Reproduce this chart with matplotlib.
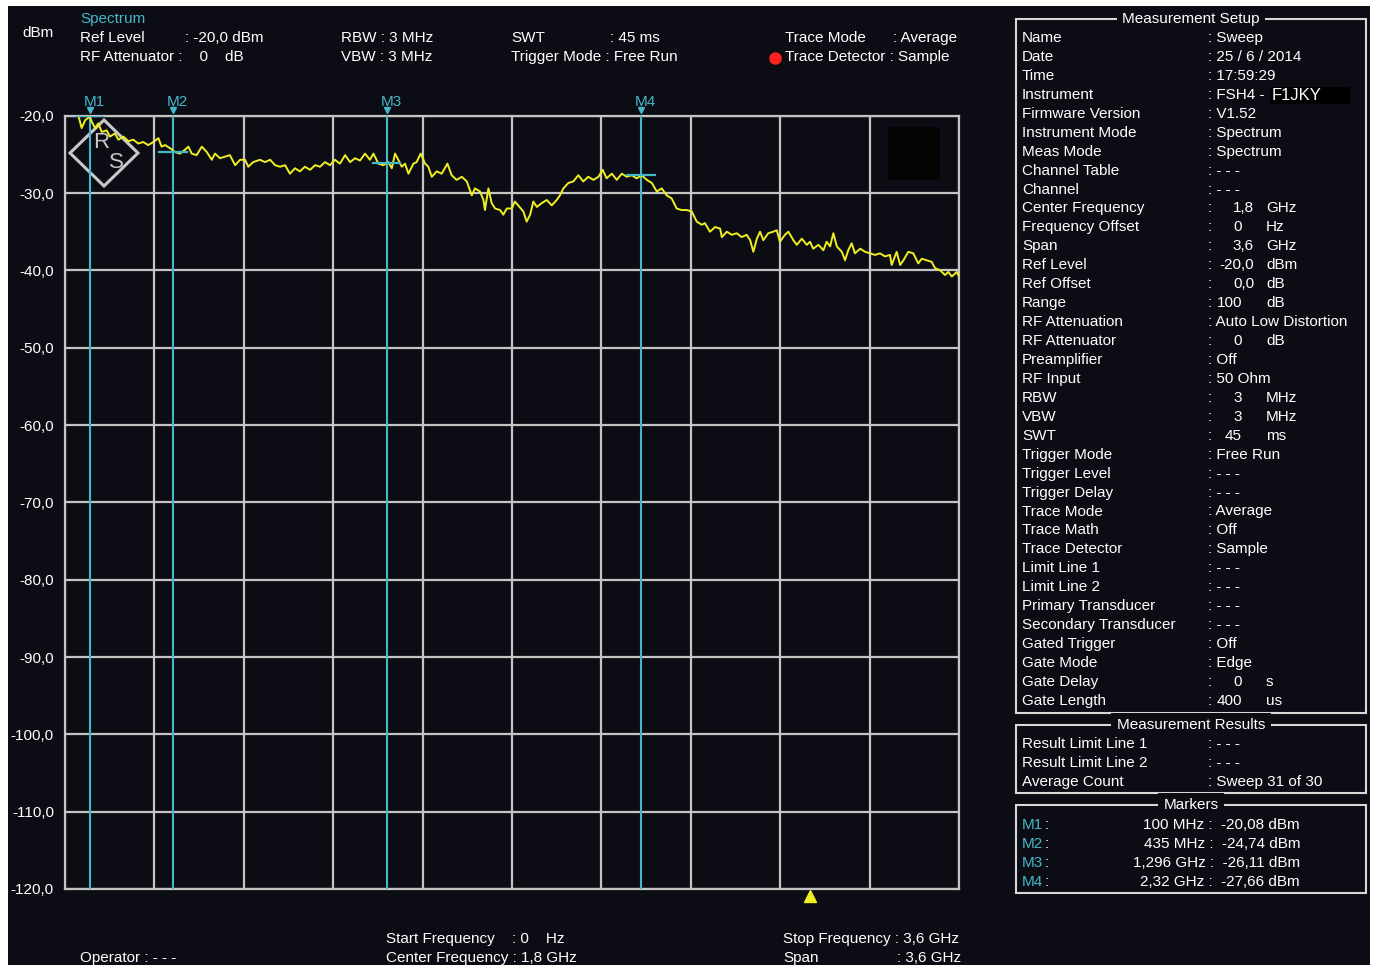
import numpy as np
import matplotlib
matplotlib.use('Agg')
import matplotlib.pyplot as plt
from matplotlib.patches import Rectangle, Polygon
from matplotlib.lines import Line2D

plt.rcParams['font.family'] = ['Liberation Sans', 'DejaVu Sans']

# trace (GHz, dBm)
trace_freq_ghz = [
    0.000, 0.030, 0.054, 0.067, 0.081, 0.100, 0.108, 0.121, 0.134, 0.148, 0.168, 0.181,
    0.201, 0.215, 0.235, 0.255, 0.275, 0.295, 0.315, 0.335, 0.356, 0.376, 0.389, 0.403,
    0.423, 0.443, 0.463, 0.483, 0.497, 0.510, 0.530, 0.551, 0.571, 0.591, 0.604, 0.624,
    0.644, 0.664, 0.685, 0.705, 0.725, 0.738, 0.758, 0.785, 0.805, 0.826, 0.846, 0.866,
    0.886, 0.906, 0.926, 0.946, 0.966, 0.987, 1.007, 1.027, 1.047, 1.067, 1.087, 1.107,
    1.128, 1.148, 1.168, 1.188, 1.208, 1.228, 1.242, 1.262, 1.282, 1.302, 1.316, 1.329,
    1.342, 1.356, 1.369, 1.383, 1.403, 1.416, 1.432, 1.450, 1.463, 1.477, 1.497, 1.517,
    1.540, 1.557, 1.577, 1.598, 1.618, 1.638, 1.651, 1.671, 1.685, 1.691, 1.705, 1.718,
    1.732, 1.752, 1.765, 1.779, 1.799, 1.812, 1.825, 1.846, 1.859, 1.873, 1.886, 1.900,
    1.920, 1.940, 1.960, 1.980, 1.993, 2.007, 2.027, 2.047, 2.067, 2.087, 2.107, 2.128,
    2.148, 2.165, 2.181, 2.202, 2.222, 2.242, 2.262, 2.282, 2.302, 2.322, 2.343, 2.363,
    2.383, 2.403, 2.423, 2.443, 2.463, 2.483, 2.504, 2.524, 2.544, 2.564, 2.577, 2.597,
    2.618, 2.638, 2.645, 2.665, 2.685, 2.705, 2.725, 2.745, 2.759, 2.772, 2.786, 2.799,
    2.812, 2.832, 2.852, 2.866, 2.879, 2.899, 2.913, 2.933, 2.947, 2.967, 2.987, 3.000,
    3.013, 3.034, 3.054, 3.067, 3.081, 3.094, 3.108, 3.128, 3.141, 3.154, 3.168, 3.181,
    3.202, 3.222, 3.242, 3.262, 3.282, 3.302, 3.322, 3.329, 3.349, 3.363, 3.376, 3.396,
    3.416, 3.436, 3.450, 3.470, 3.490, 3.503, 3.524, 3.544, 3.557, 3.571, 3.591, 3.600,
]
trace_dbm = [
    -15.0, -18.5, -20.0, -21.6, -20.6, -20.1, -20.8, -21.6, -21.0, -22.1, -21.9, -22.7,
    -22.3, -23.1, -22.7, -23.3, -23.1, -23.6, -23.4, -23.8, -23.4, -22.9, -24.0, -23.8,
    -24.2, -24.7, -24.9, -24.4, -24.0, -24.9, -25.1, -24.0, -24.7, -25.7, -24.9, -25.5,
    -25.3, -25.1, -26.4, -25.7, -25.7, -26.6, -26.0, -25.7, -26.0, -25.7, -26.4, -26.6,
    -26.4, -27.5, -26.8, -27.2, -26.6, -27.0, -26.4, -26.6, -26.0, -26.4, -25.7, -26.2,
    -25.1, -26.0, -25.5, -25.8, -24.9, -25.7, -24.9, -26.2, -26.4, -26.0, -26.8, -24.9,
    -25.7, -26.6, -26.2, -27.5, -26.2, -26.0, -24.9, -26.2, -26.6, -27.9, -27.2, -27.5,
    -26.2, -27.7, -28.3, -27.9, -28.5, -30.3, -29.4, -29.8, -30.9, -32.2, -29.4, -31.3,
    -32.0, -32.2, -32.8, -32.0, -32.0, -31.1, -31.6, -32.4, -33.7, -32.8, -31.1, -31.8,
    -31.3, -30.9, -31.6, -30.9, -30.3, -29.4, -28.7, -28.5, -27.7, -28.5, -27.9, -28.3,
    -27.9, -27.0, -28.1, -27.5, -28.3, -27.5, -27.9, -27.7, -28.1, -27.7, -28.3, -28.7,
    -29.8, -29.4, -30.3, -30.7, -32.0, -32.2, -32.2, -32.4, -33.7, -34.1, -33.9, -35.0,
    -34.4, -34.6, -35.7, -35.0, -35.4, -35.2, -35.7, -35.4, -36.1, -37.6, -35.9, -35.0,
    -36.1, -35.2, -35.0, -34.8, -36.3, -35.4, -35.0, -36.1, -36.7, -35.9, -36.7, -36.3,
    -37.2, -36.7, -37.4, -36.3, -36.9, -35.2, -36.9, -37.6, -38.7, -37.4, -36.5, -37.8,
    -37.2, -37.6, -37.8, -38.0, -37.8, -38.2, -38.0, -39.3, -37.6, -39.3, -38.7, -37.6,
    -37.8, -39.1, -38.5, -38.7, -38.9, -39.7, -40.0, -40.6, -40.2, -40.8, -40.2, -40.8,
]

marker_names = ['M1', 'M2', 'M3', 'M4']
marker_freq_ghz = [0.100, 0.435, 1.296, 2.32]
marker_freq_labels = ['100 MHz', '435 MHz', '1,296 GHz', '2,32 GHz']
marker_dbm = [-20.08, -24.74, -26.11, -27.66]

y_ticks = [-120, -110, -100, -90, -80, -70, -60, -50, -40, -30, -20]

setup_rows = [
    ('Name', ': Sweep'), ('Date', ': 25 / 6 / 2014'), ('Time', ': 17:59:29'),
    ('Instrument', ': FSH4 - '), ('Firmware Version', ': V1.52'),
    ('Instrument Mode', ': Spectrum'), ('Meas Mode', ': Spectrum'),
    ('Channel Table', ': - - -'), ('Channel', ': - - -'),
    ('Center Frequency', '1,8', 'GHz'), ('Frequency Offset', '0', 'Hz'),
    ('Span', '3,6', 'GHz'), ('Ref Level', '-20,0', 'dBm'), ('Ref Offset', '0,0', 'dB'),
    ('Range', '100', 'dB'), ('RF Attenuation', ': Auto Low Distortion'),
    ('RF Attenuator', '0', 'dB'), ('Preamplifier', ': Off'), ('RF Input', ': 50 Ohm'),
    ('RBW', '3', 'MHz'), ('VBW', '3', 'MHz'), ('SWT', '45', 'ms'),
    ('Trigger Mode', ': Free Run'), ('Trigger Level', ': - - -'), ('Trigger Delay', ': - - -'),
    ('Trace Mode', ': Average'), ('Trace Math', ': Off'), ('Trace Detector', ': Sample'),
    ('Limit Line 1', ': - - -'), ('Limit Line 2', ': - - -'),
    ('Primary Transducer', ': - - -'), ('Secondary Transducer', ': - - -'),
    ('Gated Trigger', ': Off'), ('Gate Mode', ': Edge'), ('Gate Delay', '0', 's'),
    ('Gate Length', '400', 'us'),
]
result_rows = [('Result Limit Line 1', ': - - -'), ('Result Limit Line 2', ': - - -'),
               ('Average Count', ': Sweep 31 of 30')]

W, H = 1375, 965
BG = '#0c0c14'
CYAN = '#45b8c8'
YELLOW = '#eeee22'
GRID = '#c4c4c4'


def fx(x):
    return x / W


def fy(y):
    return 1 - y / H


fig = plt.figure(figsize=(W / 100, H / 100), dpi=100)
fig.patch.set_facecolor('white')
fig.add_artist(Rectangle((fx(8), 0), 1362 / W, 959 / H, transform=fig.transFigure,
                         facecolor=BG, edgecolor='none', zorder=-10))


def txt(x, y, s, **kw):
    kw.setdefault('color', 'white')
    kw.setdefault('fontsize', 11)
    kw.setdefault('va', 'center')
    return fig.text(fx(x), fy(y), s, **kw)


# main plot
ax = fig.add_axes([fx(65), fy(889), (959 - 65) / W, (889 - 115.7) / H])
ax.set_facecolor(BG)
ax.set_xlim(0, 3.6)
ax.set_ylim(-120, -20)
ax.set_xticks(np.linspace(0, 3.6, 11))
ax.set_yticks(y_ticks)
ax.set_yticklabels([f'{v:.1f}'.replace('.', ',') for v in y_ticks])
ax.grid(True, color=GRID, lw=1.6)
ax.tick_params(length=0, labelbottom=False, colors='white', labelsize=11, pad=8)
for sp in ax.spines.values():
    sp.set_color(GRID)
    sp.set_linewidth(1.6)

# R&S logo
cx, cy, hw, hh = 104, 153, 34, 33
ax.add_patch(Polygon([(fx(cx - hw), fy(cy)), (fx(cx), fy(cy - hh)), (fx(cx + hw), fy(cy)),
                      (fx(cx), fy(cy + hh))], closed=True, transform=fig.transFigure,
                     fill=False, edgecolor='#c8c8c8', lw=2.2, zorder=2))
ax.text(fx(101), fy(142), 'R', transform=fig.transFigure, color='#c8c8c8', fontsize=16,
        ha='center', va='center', zorder=2)
ax.text(fx(116), fy(162), 'S', transform=fig.transFigure, color='#c8c8c8', fontsize=16,
        ha='center', va='center', zorder=2)

ax.plot(trace_freq_ghz, trace_dbm, color=YELLOW, lw=1.4, zorder=5)

for name, f, lvl in zip(marker_names, marker_freq_ghz, marker_dbm):
    ax.axvline(f, color=CYAN, lw=1.5, zorder=3)
    ax.plot([f - 0.055, f + 0.055], [lvl, lvl], color=CYAN, lw=1.6, zorder=6)
    ax.plot(f, -19.3, marker='v', color=CYAN, ms=5, clip_on=False, zorder=6)
    ax.annotate(name, xy=(f, -20), xytext=(-6, 14), textcoords='offset pixels',
                color=CYAN, fontsize=11, va='center', ha='left', annotation_clip=False)

ax.plot(3.0, -120.9, marker='^', color=YELLOW, ms=8, clip_on=False, zorder=6)

fig.add_artist(Rectangle((fx(888), fy(180)), 52 / W, 53 / H, transform=fig.transFigure,
                         facecolor='#040404', edgecolor='none', zorder=1))

# header
txt(22, 33, 'dBm')
txt(80, 19, 'Spectrum', color=CYAN)
txt(80, 38, 'Ref Level')
txt(185, 38, ': -20,0 dBm')
txt(80, 57, 'RF Attenuator :    0    dB')
txt(341, 38, 'RBW : 3 MHz')
txt(341, 57, 'VBW : 3 MHz')
txt(511, 38, 'SWT')
txt(610, 38, ': 45 ms')
txt(511, 57, 'Trigger Mode : Free Run')
txt(785, 38, 'Trace Mode')
txt(893, 38, ': Average')
txt(785, 57, 'Trace Detector : Sample')
fig.add_artist(Line2D([fx(775)], [fy(58)], marker='o', color='#ff2020', ms=8,
                      transform=fig.transFigure))

# footer
txt(386, 939, 'Start Frequency')
txt(512, 939, ': 0    Hz')
txt(386, 958, 'Center Frequency : 1,8 GHz')
txt(783, 939, 'Stop Frequency : 3,6 GHz')
txt(783, 958, 'Span')
txt(897, 958, ': 3,6 GHz')
txt(80, 958, 'Operator : - - -')


# right panel
def box(top, bottom, title):
    fig.add_artist(Rectangle((fx(1016), fy(bottom)), 350 / W, (bottom - top) / H,
                             transform=fig.transFigure, fill=False, edgecolor='#d8d8d8',
                             lw=1.5, zorder=1))
    txt(1191, top, title, ha='center',
        bbox=dict(facecolor=BG, edgecolor='none', pad=4))


box(19, 713, 'Measurement Setup')
for i, row in enumerate(setup_rows):
    y = 38 + i * 18.94
    txt(1022, y, row[0])
    if len(row) == 2:
        txt(1208, y, row[1])
    else:
        txt(1208, y, ':')
        txt(1254 if ',' in row[1] else 1242, y, row[1], ha='right')
        txt(1266, y, row[2])
fig.add_artist(Rectangle((fx(1270), fy(104)), 80 / W, 17 / H, transform=fig.transFigure,
                         facecolor='black', edgecolor='none', zorder=1))
txt(1272, 95, 'F1JKY', fontsize=12)

box(725, 793, 'Measurement Results')
for i, (lab, val) in enumerate(result_rows):
    y = 744 + i * 19
    txt(1022, y, lab)
    txt(1208, y, val)

box(805, 893, 'Markers')
for i, (name, fl, lvl) in enumerate(zip(marker_names, marker_freq_labels, marker_dbm)):
    y = 825 + i * 19
    txt(1022, y, name, color=CYAN)
    txt(1045, y, ':')
    txt(1300, y, f'{fl} :  {lvl:.2f} dBm'.replace('.', ','), ha='right')

fig.savefig('out.png', dpi=100, facecolor=fig.get_facecolor())
